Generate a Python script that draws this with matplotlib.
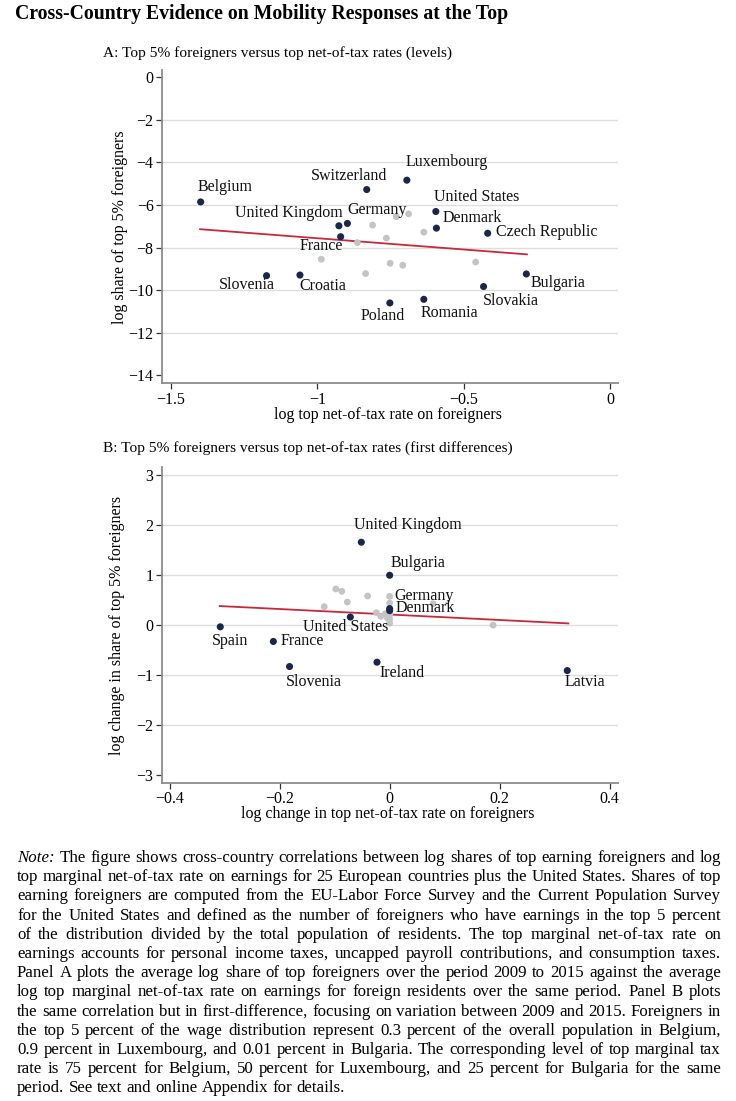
import numpy as np
import matplotlib
matplotlib.use("Agg")
import matplotlib.pyplot as plt

plt.rcParams.update({
    "font.family": ["Liberation Serif", "DejaVu Serif"],
    "font.size": 11,
    "axes.unicode_minus": True,
})

# ---------- Data ----------
# Panel A: levels (labelled countries)
a_names = ["Belgium", "Switzerland", "Luxembourg", "United States", "Denmark",
           "Czech Republic", "United Kingdom", "Germany", "France", "Slovenia",
           "Croatia", "Poland", "Romania", "Slovakia", "Bulgaria"]
a_x = [-1.398, -0.831, -0.694, -0.595, -0.593, -0.418, -0.926, -0.897, -0.920,
       -1.173, -1.059, -0.752, -0.636, -0.432, -0.286]
a_y = [-5.86, -5.28, -4.84, -6.31, -7.09, -7.33, -6.98, -6.87, -7.49,
       -9.32, -9.29, -10.60, -10.43, -9.83, -9.24]
# Panel A: other countries (grey)
a_gx = [-0.688, -0.730, -0.811, -0.636, -0.764, -0.863, -0.986, -0.751, -0.708, -0.459, -0.835]
a_gy = [-6.42, -6.55, -6.95, -7.28, -7.56, -7.77, -8.55, -8.74, -8.83, -8.68, -9.22]
a_fit_x = [-1.400, -0.284]
a_fit_y = [-7.14, -8.32]

# Panel B: first differences (labelled countries)
b_names = ["United Kingdom", "Bulgaria", "Germany", "Denmark", "United States",
           "Spain", "France", "Slovenia", "Ireland", "Latvia"]
b_x = [-0.0515, 0.0, 0.0, 0.0, -0.0715, -0.308, -0.2115, -0.182, -0.023, 0.323]
b_y = [1.662, 0.999, 0.33, 0.29, 0.161, -0.034, -0.328, -0.831, -0.744, -0.912]
b_gx = [-0.098, -0.087, -0.040, -0.077, -0.119, 0.0, 0.0, 0.079, -0.024, -0.016,
        -0.008, 0.0, 0.0, 0.0, -0.004, 0.188]
b_gy = [0.724, 0.677, 0.583, 0.462, 0.369, 0.576, 0.442, 0.429, 0.248, 0.174,
        0.228, 0.208, 0.121, 0.040, 0.141, 0.0]
b_fit_x = [-0.309, 0.325]
b_fit_y = [0.382, 0.034]

# label offsets in pixels (dx, dy, ha)
a_offsets = [(-3, 15, "left"), (-18, 14, "center"), (-1, 18, "left"), (-2, 15, "left"),
             (6, 10, "left"), (8, 1, "left"), (4, 13, "right"), (0, 13, "left"),
             (2, -9, "right"), (8, -9, "right"), (-1, -11, "left"), (-7, -13, "center"),
             (-3, -14, "left"), (-1, -14, "left"), (4, -9, "left")]
b_offsets = [(-7, 17, "left"), (1, 12, "left"), (5, 13, "left"), (6, 3, "left"),
             (-5, -10, "center"), (-8, -14, "left"), (7, 0, "left"), (-4, -15, "left"),
             (2, -11, "left"), (-3, -11, "left")]

note_lines = [
    "The figure shows cross-country correlations between log shares of top earning foreigners and log",
    "top marginal net-of-tax rate on earnings for 25 European countries plus the United States. Shares of top",
    "earning foreigners are computed from the EU-Labor Force Survey and the Current Population Survey",
    "for the United States and defined as the number of foreigners who have earnings in the top 5 percent",
    "of the distribution divided by the total population of residents. The top marginal net-of-tax rate on",
    "earnings accounts for personal income taxes, uncapped payroll contributions, and consumption taxes.",
    "Panel A plots the average log share of top foreigners over the period 2009 to 2015 against the average",
    "log top marginal net-of-tax rate on earnings for foreign residents over the same period. Panel B plots",
    "the same correlation but in first-difference, focusing on variation between 2009 and 2015. Foreigners in",
    "the top 5 percent of the wage distribution represent 0.3 percent of the overall population in Belgium,",
    "0.9 percent in Luxembourg, and 0.01 percent in Bulgaria. The corresponding level of top marginal tax",
    "rate is 75 percent for Belgium, 50 percent for Luxembourg, and 25 percent for Bulgaria for the same",
    "period. See text and online Appendix for details.",
]

navy = "#1b2748"
grey = "#c4c4c4"
red = "#c8283c"
W, H = 736, 1101

fig = plt.figure(figsize=(W / 100, H / 100), dpi=100)
renderer = fig.canvas.get_renderer()


def style_axes(ax, grid_vals):
    for s in ["top", "right"]:
        ax.spines[s].set_visible(False)
    for s in ["left", "bottom"]:
        ax.spines[s].set_color("#8c8c8c")
        ax.spines[s].set_linewidth(1.3)
    for g in grid_vals:
        ax.axhline(g, color="#dedede", lw=1.0, zorder=0)
    ax.tick_params(direction="out", length=4, width=0.9, color="#333333",
                   labelsize=11.5, pad=2)


def draw_panel(ax, names, xs, ys, gx, gy, fx, fy, offsets):
    ax.plot(fx, fy, color=red, lw=1.3, zorder=2)
    ax.scatter(gx, gy, s=24, color=grey, edgecolors="none", zorder=3)
    ax.scatter(xs, ys, s=26, color=navy, edgecolors="none", zorder=4)
    for n, x, y, (dx, dy, ha) in zip(names, xs, ys, offsets):
        ax.annotate(n, (x, y), xytext=(dx, dy), textcoords="offset pixels",
                    ha=ha, va="center", fontsize=11.5, color="#111111", zorder=5)


# Panel A
axA = fig.add_axes([162 / W, 1 - 383.3 / H, 456.3 / W, (383.3 - 70) / H])
draw_panel(axA, a_names, a_x, a_y, a_gx, a_gy, a_fit_x, a_fit_y, a_offsets)
axA.set_xlim(-1.53, 0.028)
axA.set_ylim(-14.37, 0.33)
axA.set_xticks([-1.5, -1, -0.5, 0])
axA.set_xticklabels(["\u22121.5", "\u22121", "\u22120.5", "0"])
axA.set_yticks(range(-14, 1, 2))
axA.set_yticklabels([str(v).replace("-", "\u2212") for v in range(-14, 1, 2)])
style_axes(axA, range(-12, -1, 2))

# Panel B
axB = fig.add_axes([161.7 / W, 1 - 782.7 / H, 456.6 / W, (782.7 - 467) / H])
draw_panel(axB, b_names, b_x, b_y, b_gx, b_gy, b_fit_x, b_fit_y, b_offsets)
axB.set_xlim(-0.4145, 0.4158)
axB.set_ylim(-3.16, 3.17)
axB.set_xticks([-0.4, -0.2, 0, 0.2, 0.4])
axB.set_xticklabels(["\u22120.4", "\u22120.2", "0", "0.2", "0.4"])
axB.set_yticks(range(-3, 4))
axB.set_yticklabels([str(v).replace("-", "\u2212") for v in range(-3, 4)])
style_axes(axB, range(-2, 4))


# Titles and axis labels (figure pixel positions)
def ftext(x, y, s, **kw):
    return fig.text(x / W, 1 - y / H, s, **kw)


ftext(15, 14, "Cross-Country Evidence on Mobility Responses at the Top",
      fontsize=14.2, fontweight="bold", va="center", ha="left")
ftext(103, 53, "A: Top 5% foreigners versus top net-of-tax rates (levels)",
      fontsize=11.1, va="center", ha="left")
ftext(103, 448, "B: Top 5% foreigners versus top net-of-tax rates (first differences)",
      fontsize=11.1, va="center", ha="left")
ftext(388, 415, "log top net-of-tax rate on foreigners", fontsize=11.5, ha="center", va="center")
ftext(388, 814, "log change in top net-of-tax rate on foreigners", fontsize=11.5, ha="center", va="center")
ftext(120, 227, "log share of top 5% foreigners", fontsize=11.5, rotation=90,
      ha="center", va="center")
ftext(117, 625, "log change in share of top 5% foreigners", fontsize=11.5, rotation=90,
      ha="center", va="center")

# Note: justified paragraph, font sized so the widest line nearly fills the block
left_px, right_px = 17, 721
y0, dy_line = 858, 19.2
probe = fig.text(0, 0, "Note: " + note_lines[0], fontsize=10)
widest = probe.get_window_extent(renderer).width
for line in note_lines[1:]:
    probe.set_text(line)
    widest = max(widest, probe.get_window_extent(renderer).width)
probe.remove()
note_size = min(13.2, 10 * (right_px - left_px - 6) / widest)

sp = fig.text(0, 0, "a a", fontsize=note_size)
sp2 = fig.text(0, 0, "aa", fontsize=note_size)
space_w = sp.get_window_extent(renderer).width - sp2.get_window_extent(renderer).width
sp.remove()
sp2.remove()

for i, line in enumerate(note_lines):
    words = line.split(" ")
    styles = ["normal"] * len(words)
    if i == 0:
        words = ["Note:"] + words
        styles = ["italic"] + styles
    ypix = y0 + i * dy_line
    texts = [ftext(0, ypix, w, fontsize=note_size, style=st, va="center", ha="left")
             for w, st in zip(words, styles)]
    widths = [t.get_window_extent(renderer).width for t in texts]
    if i < len(note_lines) - 1:
        gap = (right_px - left_px - sum(widths)) / (len(words) - 1)
    else:
        gap = space_w
    x = left_px
    for t, w in zip(texts, widths):
        t.set_x(x / W)
        x += w + gap

fig.savefig("out.png", dpi=100)
